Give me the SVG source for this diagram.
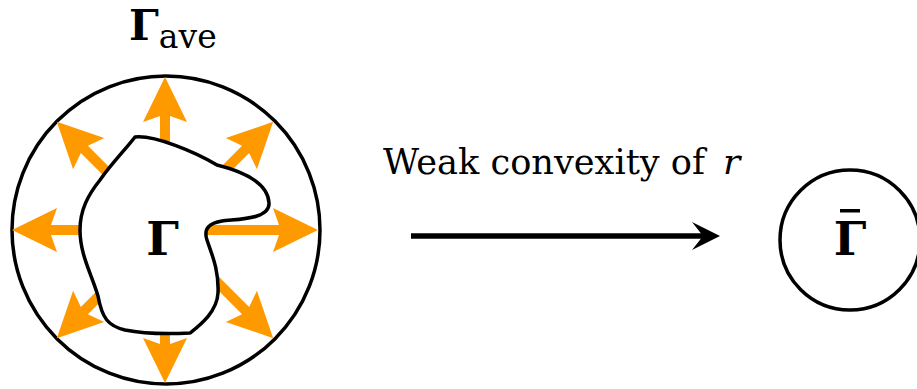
<svg xmlns="http://www.w3.org/2000/svg" width="917" height="389" viewBox="0 0 917 389">
<style>
.ln{fill:none;stroke:#000;stroke-width:3.5;stroke-linejoin:round}
.oa{fill:#ff9900}
text{font-family:"DejaVu Serif","Liberation Serif","Times New Roman",serif;fill:#000}
</style>
<defs>
<path id="oarrow" class="oa" d="M0,-5 L114,-5 L108,-22 L153,0 L108,22 L114,5 L0,5 Z"/>
</defs>
<rect width="917" height="389" fill="#fff"/>
<g id="gamma-ave">
<circle class="ln" cx="166" cy="230" r="154"/>
<g transform="translate(165,230)">
<use href="#oarrow"/>
<use href="#oarrow" transform="rotate(45)"/>
<use href="#oarrow" transform="rotate(90)"/>
<use href="#oarrow" transform="rotate(135)"/>
<use href="#oarrow" transform="rotate(180)"/>
<use href="#oarrow" transform="rotate(225)"/>
<use href="#oarrow" transform="rotate(270)"/>
<use href="#oarrow" transform="rotate(315)"/>
</g>
<text font-weight="bold" x="129" y="40" font-size="42">Γ<tspan font-size="33" font-weight="normal" dy="8">ave</tspan></text>
</g>
<g id="gamma">
<path class="ln" style="fill:#fff" d="M135,137 C155,135 195,152 217,165 C245,172 268,183 269,203 C270,220 235,219 222,221 C210,223 203,228 207,240 C212,255 219,270 218,293 C217,312 200,325 190,333 C170,334 145,334 125,330 C108,326 102,318 98,296 C92,275 80,255 80,230 C80,210 88,195 100,180 C112,163 125,150 135,137 Z"/>
<text font-weight="bold" x="162.5" y="255" font-size="46" text-anchor="middle">Γ</text>
</g>
<g id="connectors">
<line x1="411" y1="236" x2="705" y2="236" stroke="#000" stroke-width="5.5"/>
<path d="M720,236 L692,222 L703,236 L692,250 Z" fill="#000"/>
<text x="383" y="174" font-size="36" textLength="322" lengthAdjust="spacingAndGlyphs">Weak convexity of</text>
<text x="723" y="174" font-size="36" font-style="italic">r</text>
</g>
<g id="gamma-bar">
<circle class="ln" cx="850" cy="240" r="70"/>
<text font-weight="bold" x="850" y="255" font-size="46" text-anchor="middle">Γ</text>
<rect x="840" y="209" width="20" height="3.5" fill="#000"/>
</g>
</svg>
